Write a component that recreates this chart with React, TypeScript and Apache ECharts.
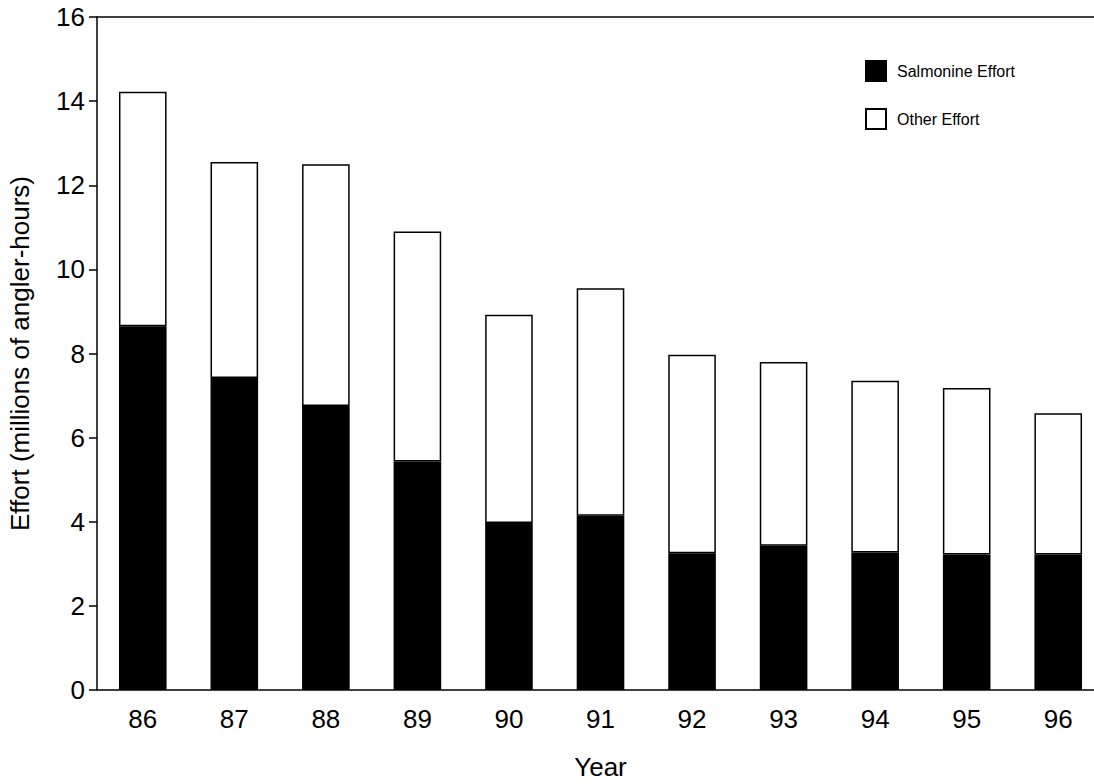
import { useEffect, useRef } from "react";
import * as echarts from "echarts";

const years = ["86", "87", "88", "89", "90", "91", "92", "93", "94", "95", "96"];
const salmonine = [8.65, 7.42, 6.75, 5.43, 3.97, 4.14, 3.25, 3.43, 3.27, 3.22, 3.22];
const totals = [14.22, 12.55, 12.5, 10.9, 8.92, 9.55, 7.97, 7.8, 7.35, 7.18, 6.58];
const other = totals.map((t, i) => +(t - salmonine[i]).toFixed(2));

export default function App() {
  const ref = useRef<HTMLDivElement>(null);

  useEffect(() => {
    if (!ref.current) return;
    const chart = echarts.init(ref.current, null, { renderer: "svg" });
    const font = "Liberation Sans, Arial, sans-serif";
    chart.setOption({
      animation: false,
      textStyle: { fontFamily: font },
      grid: { left: 97, top: 17, width: 1007, bottom: 94, outerBoundsMode: "none", containLabel: false },
      legend: {
        orient: "vertical",
        left: 860,
        top: 55,
        itemWidth: 20,
        itemHeight: 20,
        itemGap: 26,
        textStyle: { fontSize: 16, color: "#000", fontFamily: font, padding: [0, 0, 0, 6] },
        data: [
          { name: "Salmonine Effort", icon: "rect" },
          { name: "Other Effort", icon: "rect" },
        ],
      },
      xAxis: [
        {
          type: "category",
          data: years,
          name: "Year",
          nameLocation: "middle",
          nameGap: 64,
          nameTextStyle: { fontSize: 26, color: "#000" },
          axisLine: { lineStyle: { color: "#000", width: 1.5 } },
          axisTick: { show: false },
          axisLabel: { fontSize: 26, color: "#000", margin: 16 },
        },
        {
          type: "category",
          data: years,
          position: "top",
          axisLine: { lineStyle: { color: "#000", width: 1.5 } },
          axisTick: { show: false },
          axisLabel: { show: false },
        },
      ],
      yAxis: {
        type: "value",
        min: 0,
        max: 16,
        interval: 2,
        name: "Effort (millions of angler-hours)",
        nameLocation: "middle",
        nameGap: 64,
        nameTextStyle: { fontSize: 26, color: "#000" },
        axisLine: { show: true, lineStyle: { color: "#000", width: 1.5 } },
        axisTick: { show: true, length: 8, lineStyle: { color: "#000", width: 1.5 } },
        axisLabel: { fontSize: 26, color: "#000", margin: 12 },
        splitLine: { show: false },
      },
      series: [
        {
          name: "Salmonine Effort",
          type: "bar",
          stack: "e",
          data: salmonine,
          barWidth: "52%",
          itemStyle: { color: "#000", borderColor: "#000", borderWidth: 1.5 },
        },
        {
          name: "Other Effort",
          type: "bar",
          stack: "e",
          data: other,
          itemStyle: { color: "#fff", borderColor: "#000", borderWidth: 1.5 },
        },
      ],
    });
    return () => chart.dispose();
  }, []);

  return (
    <div
      ref={ref}
      style={{ position: "absolute", left: 0, top: 0, width: 1094, height: 784 }}
    />
  );
}
